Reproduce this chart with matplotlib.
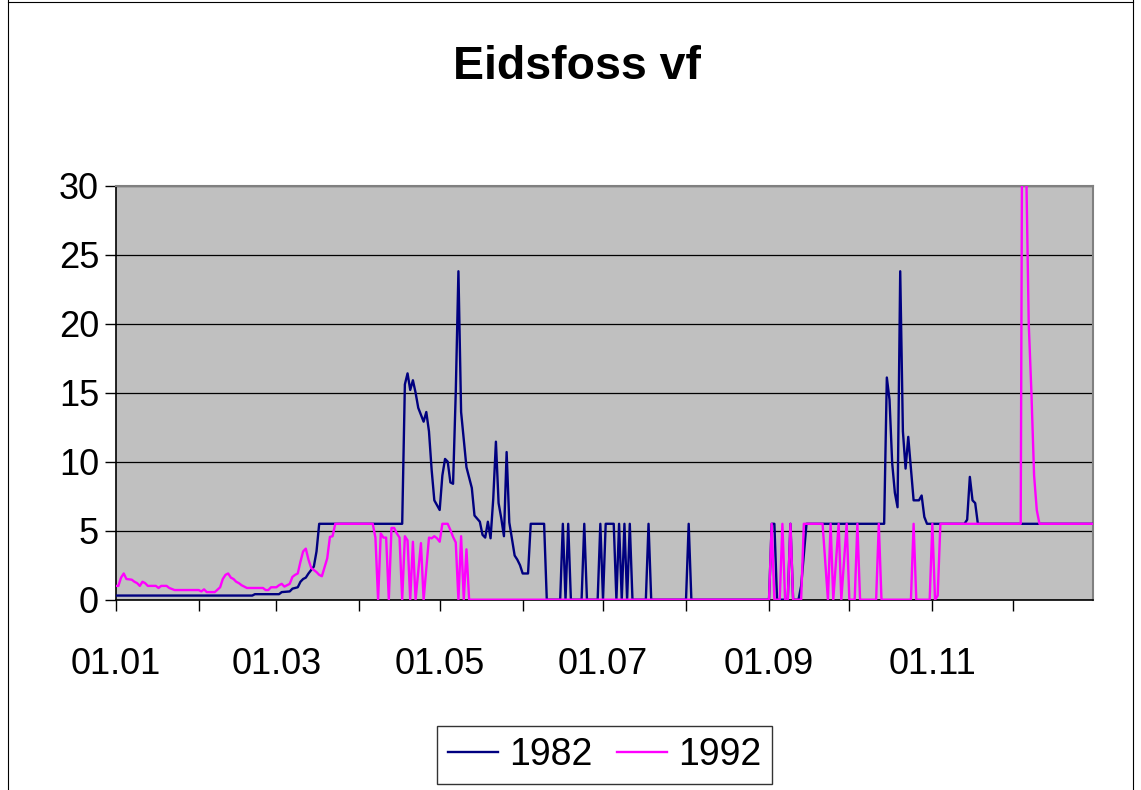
import matplotlib
matplotlib.use("Agg")
import matplotlib.pyplot as plt
from matplotlib.lines import Line2D

plt.rcParams['font.family'] = ['Liberation Sans', 'DejaVu Sans']

# day index (0 = 01.01, leap-year calendar) and value, vertices of each line
days_1982 = [0, 51, 52, 61, 62, 65, 66, 68, 69, 70, 71, 72, 74, 75, 76, 107,
             108, 109, 110, 111, 112, 113, 115, 116, 117, 118, 119, 121, 122, 123,
             124, 125, 126, 127, 128, 129, 130, 131, 133, 134, 136, 137, 138, 139,
             140, 141, 142, 143, 144, 145, 146, 147, 149, 150, 151, 152, 154, 155,
             160, 161, 166, 167, 168, 169, 170, 174, 175, 176, 180, 181, 182, 183,
             186, 187, 188, 189, 190, 191, 192, 193, 198, 199, 200, 213, 214, 215,
             244, 245, 246, 247, 251, 252, 253, 255, 256, 258, 287, 288, 289, 290,
             291, 292, 293, 294, 295, 296, 298, 300, 301, 302, 303, 317, 318, 319,
             320, 321, 322, 365]
vals_1982 = [0.3, 0.3, 0.4, 0.4, 0.55, 0.6, 0.8, 0.9, 1.3, 1.5, 1.6, 1.9, 2.4, 3.5, 5.5, 5.5,
             15.6, 16.4, 15.2, 15.9, 15.0, 13.9, 12.9, 13.6, 12.2, 9.4, 7.2, 6.5, 9.0, 10.2,
             10.0, 8.5, 8.4, 15.0, 23.8, 13.6, 11.6, 9.6, 8.1, 6.1, 5.65, 4.7, 4.5, 5.65,
             4.45, 7.3, 11.45, 7.0, 5.9, 4.6, 10.7, 5.6, 3.2, 2.9, 2.5, 1.9, 1.9, 5.5,
             5.5, 0, 0, 5.5, 0, 5.5, 0, 0, 5.5, 0, 0, 5.5, 0, 5.5,
             5.5, 0, 5.5, 0, 5.5, 0, 5.5, 0, 0, 5.5, 0, 0, 5.5, 0,
             0, 5.5, 5.5, 0, 0, 5.5, 0, 0, 1.0, 5.5, 5.5, 16.1, 14.5, 9.9,
             7.75, 6.7, 23.8, 12.2, 9.5, 11.8, 7.2, 7.2, 7.55, 6.0, 5.5, 5.5, 5.8, 8.9,
             7.2, 7.0, 5.5, 5.5]

days_1992 = [0, 1, 2, 3, 4, 6, 7, 8, 9, 10, 11, 12, 15, 16, 17, 19, 20, 22, 31, 32,
             33, 34, 37, 39, 40, 41, 42, 43, 44, 45, 46, 47, 49, 55, 56, 57, 58, 60,
             61, 62, 63, 65, 66, 67, 68, 69, 70, 71, 72, 73, 75, 76, 77, 78, 79, 80,
             81, 82, 96, 97, 98, 99, 100, 101, 102, 103, 104, 105, 106, 107, 108, 109,
             110, 111, 112, 114, 115, 117, 118, 119, 120, 121, 122, 124, 125, 126, 127,
             128, 129, 130, 131, 132, 244, 245, 246, 248, 249, 250, 251, 252, 253, 256,
             257, 264, 266, 267, 268, 270, 271, 273, 274, 276, 277, 278, 284, 285, 286,
             297, 298, 299, 304, 305, 306, 307, 308, 338, 339, 340, 341, 342, 343, 344,
             345, 365]
vals_1992 = [1.0, 1.0, 1.6, 1.9, 1.5, 1.45, 1.3, 1.2, 1.0, 1.3, 1.2, 1.0, 1.0, 0.85, 1.0, 1.0, 0.85, 0.7, 0.7, 0.6,
             0.75, 0.55, 0.55, 0.9, 1.5, 1.8, 1.9, 1.6, 1.5, 1.3, 1.2, 1.05, 0.85, 0.85, 0.7, 0.7, 0.9, 0.9,
             1.05, 1.15, 0.95, 1.15, 1.65, 1.8, 1.9, 2.75, 3.5, 3.7, 2.9, 2.3, 2.0, 1.8, 1.7, 2.35, 3.0, 4.55,
             4.6, 5.5, 5.5, 4.5, 0, 4.8, 4.5, 4.5, 0, 5.2, 5.2, 4.8, 4.5, 0, 4.6, 4.3,
             0, 4.2, 0, 4.1, 0, 4.5, 4.45, 4.6, 4.45, 4.2, 5.5, 5.5, 5.05, 4.55, 4.15,
             0, 4.6, 0, 3.65, 0, 0, 5.5, 0, 0, 5.5, 0, 0, 5.5, 0, 0,
             5.5, 5.5, 0, 5.5, 0, 5.5, 0, 5.5, 0, 0, 5.5, 0, 0, 5.5, 0,
             0, 5.5, 0, 0, 5.5, 0, 0.3, 5.5, 5.5, 60, 32, 20, 15, 9, 6.5,
             5.5, 5.5]

month_days = [0, 31, 60, 91, 121, 152, 182, 213, 244, 274, 305, 335]
month_labels = ['01.01', '', '01.03', '', '01.05', '', '01.07', '', '01.09', '', '01.11', '']
y_ticks = [0, 5, 10, 15, 20, 25, 30]

W, H = 1141, 790
fig = plt.figure(figsize=(W / 100, H / 100), dpi=100)
ax = fig.add_axes([115.7 / W, 1 - 599.7 / H, (1093 - 115.7) / W, (599.7 - 185.7) / H])
ax.set_facecolor('#C0C0C0')

ax.plot(days_1982, vals_1982, color='#000080', lw=1.7, label='1982', zorder=3)
ax.plot(days_1992, vals_1992, color='#FF00FF', lw=1.7, label='1992', zorder=4)

ax.set_xlim(0, 365)
ax.set_ylim(0, 30)
ax.set_xticks(month_days)
ax.set_xticklabels(month_labels)
ax.set_yticks(y_ticks)
ax.yaxis.grid(True, color='black', lw=0.9)
ax.set_axisbelow(True)

ax.tick_params(axis='both', direction='out', length=8, width=1, labelsize=26, color='black')
ax.tick_params(axis='x', pad=26)
ax.tick_params(axis='y', pad=4)

for s in ['top', 'right']:
    ax.spines[s].set_color('#808080')
    ax.spines[s].set_linewidth(1.5)
for s in ['left', 'bottom']:
    ax.spines[s].set_color('black')
    ax.spines[s].set_linewidth(1.2)

fig.text(577 / W, 1 - 67 / H, 'Eidsfoss vf', ha='center', va='center',
         fontsize=33.5, fontweight='bold')

leg = fig.legend(loc='center', bbox_to_anchor=(604.5 / W, 1 - 755 / H), ncol=2,
                 fontsize=27, frameon=True, fancybox=False, edgecolor='black',
                 handlelength=1.33, handletextpad=0.3, columnspacing=0.65,
                 borderpad=0.3, borderaxespad=0)
leg.get_frame().set_linewidth(1.0)

# chart-area border
fig.add_artist(Line2D([7.5 / W, 7.5 / W], [0, 1], color='black', lw=0.8))
fig.add_artist(Line2D([7.5 / W, 1133 / W], [1 - 1.5 / H, 1 - 1.5 / H], color='black', lw=0.8))
fig.add_artist(Line2D([1133 / W, 1133 / W], [0, 1], color='black', lw=0.8))

fig.savefig('out.png', dpi=100)
